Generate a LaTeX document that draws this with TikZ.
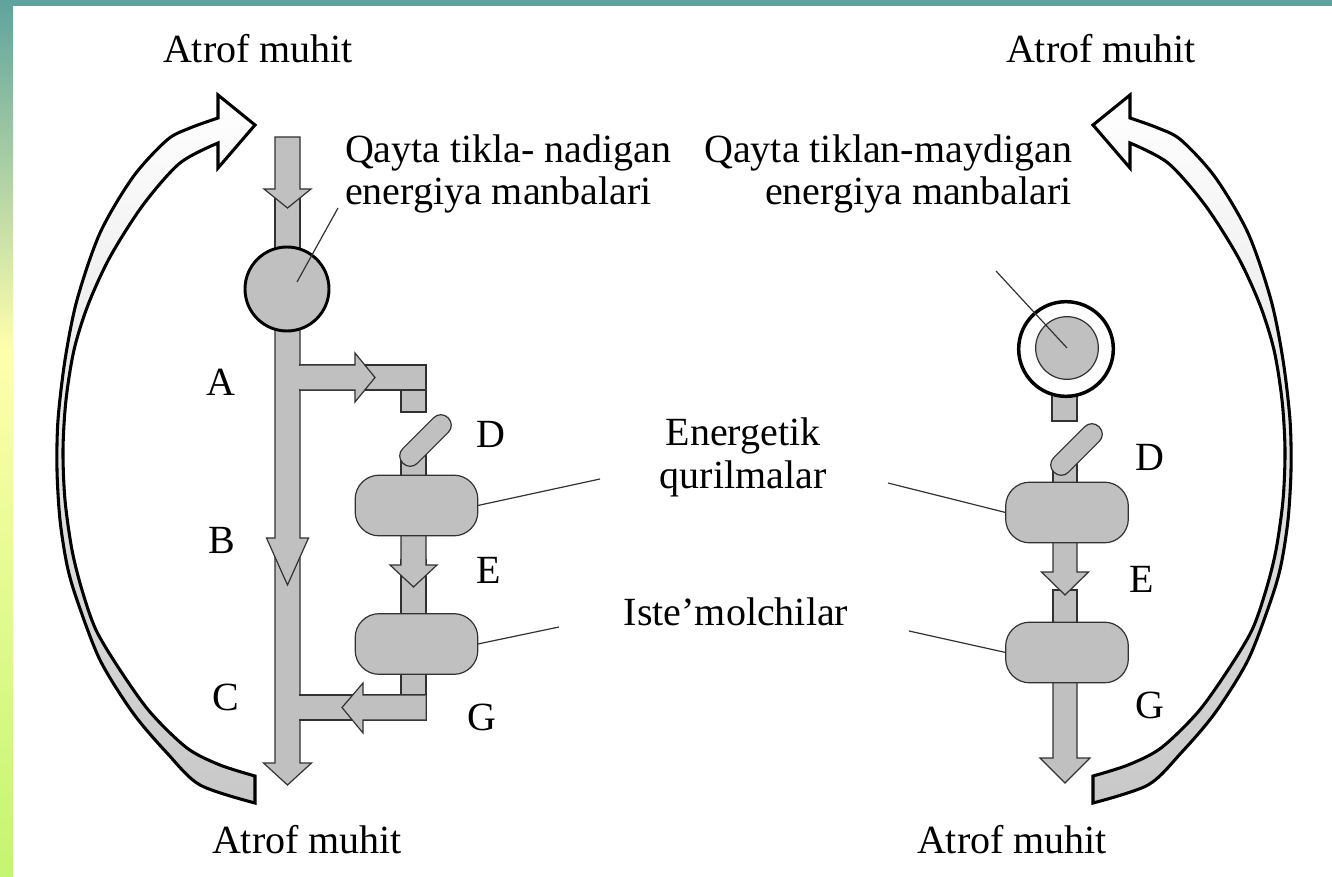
\documentclass[tikz,border=0pt]{standalone}
\usepackage{fontspec}
\setmainfont{Liberation Serif}
\definecolor{fillg}{RGB}{192,192,192}
\definecolor{bandg}{RGB}{200,200,200}
\definecolor{tealA}{RGB}{95,163,158}
\definecolor{yelA}{RGB}{255,255,172}
\definecolor{grnA}{RGB}{196,245,112}
\definecolor{edgeA}{RGB}{50,50,50}
\newcommand\myDarr[6]{%
  \filldraw[blk] ({#1-#5},#2) -- ({#1-#5},#3) -- ({#1-#6},#3) -- (#1,#4) -- ({#1+#6},#3) -- ({#1+#5},#3) -- ({#1+#5},#2) -- cycle;}
\newcommand\myBand{%
  \draw[line width=2.3pt, line join=miter, draw=black, top color=white, bottom color=bandg]
   plot[smooth,tension=0.5] coordinates {(255,776) (220,765) (187,748) (150,712) (120,670) (96,630) (82,590) (72,550) (65,500) (63,450) (66,400) (74,350) (88,305) (110,257) (143,205) (180,163) (218,143)}
   -- (218,168) -- (255,125) -- (218,95) -- (218,118)
   -- plot[smooth,tension=0.5] coordinates {(218,118) (190,128) (167,140) (133,177) (100,233) (77,300) (65,360) (58,420) (57,470) (60,520) (67,565) (77,600) (100,660) (133,713) (167,753) (200,785) (255,803)}
   -- cycle;}
\begin{document}
\begin{tikzpicture}[x=0.75pt,y=-0.75pt,
  every node/.style={inner sep=0pt,outer sep=0pt,font=\fontsize{30}{36}\selectfont},
  blk/.style={fill=fillg,draw=edgeA,line width=0.9pt,line join=miter},
  pill/.style={rectangle,rounded corners=18pt,fill=fillg,draw=edgeA,line width=0.9pt,minimum width=92pt,minimum height=45.5pt},
  tilt/.style={rectangle,rounded corners=7.5pt,fill=fillg,draw=edgeA,line width=0.9pt,minimum width=48pt,minimum height=15.5pt,rotate=45},
  lead/.style={draw=edgeA,line width=0.9pt},
  lbl/.style={anchor=base}]
\useasboundingbox (0,0) rectangle (1332,877);
\fill[white] (0,0) rectangle (1332,877);
% frame
\fill[tealA] (0,0) rectangle (1332,6);
\shade[top color=tealA,bottom color=yelA] (0,0) rectangle (13,350);
\shade[top color=yelA,bottom color=grnA] (0,350) rectangle (13,877);

% curved arrows
\myBand
\begin{scope}[shift={(1348,0)},xscale=-1]
\myBand
\end{scope}

% ===== left diagram =====
\myDarr{287.5}{555}{763}{785}{12.5}{24}
\myDarr{287.5}{300}{538}{585}{12.5}{21}
\filldraw[blk] (275,195) rectangle (300,262);
\myDarr{287.5}{137}{189}{208}{12.5}{23.5}
\node[circle,minimum size=63pt,fill=fillg,draw=black,line width=2.2pt] (src) at (287,289) {};
\coordinate (srcP) at (297,282);
\coordinate (srcE) at (338,208);
\draw[lead] (srcP) -- (srcE);

% branch A
\fill[fillg] (299,365) rectangle (426,390);
\draw[edgeA,line width=0.9pt] (299,365) -- (426,365) -- (426,390) -- (299,390);
\filldraw[blk] (401,390) rectangle (426,412);
\filldraw[blk] (300,365) -- (355,365) -- (355,353) -- (375,377.5) -- (355,402) -- (355,390) -- (300,390);

% D stub, E shaft, G stub
\filldraw[blk] (401,452) rectangle (426,478);
\filldraw[blk] (401,560) rectangle (426,615);
\myDarr{413.5}{534}{565}{587}{12.5}{23.5}
\filldraw[blk] (401,673) rectangle (426,696);
\node[tilt] (dL) at (425.5,440.5) {};
\node[pill] (eL) at (416.5,505.5) {};
\node[pill] (cL) at (416.5,644) {};

% branch G
\fill[fillg] (299,695) rectangle (426,720);
\draw[edgeA,line width=0.9pt] (299,695) -- (426,695) -- (426,720) -- (299,720);
\filldraw[blk] (425.5,695) -- (363,695) -- (363,683) -- (342,707.5) -- (363,733) -- (363,720) -- (425.5,720);

\coordinate (eLend) at (600,479);
\coordinate (cLend) at (559,627);
\draw[lead] (eL.east) -- (eLend);
\draw[lead] (cL.east) -- (cLend);

% ===== right diagram =====
\filldraw[blk] (1052,390) rectangle (1077,421);
\node[circle,minimum size=71pt,fill=white,draw=black,line width=2.6pt] (ringO) at (1066,349) {};
\node[circle,minimum size=47pt,fill=fillg,draw=edgeA,line width=0.9pt] (ringI) at (1067,348) {};
\coordinate (ringL) at (996,271);
\draw[lead] (ringL) -- (ringI.center);

\filldraw[blk] (1053,463) rectangle (1077,484);
\filldraw[blk] (1053,590) rectangle (1077,624);
\myDarr{1065}{540}{572}{595}{12}{23.5}
\myDarr{1065}{680}{758}{783}{12}{25}
\node[tilt] (dR) at (1076.5,449.5) {};
\node[pill] (eR) at (1067,512.5) {};
\node[pill] (cR) at (1067,652.5) {};
\coordinate (eRend) at (888,483);
\coordinate (cRend) at (909,631);
\draw[lead] (eRend) -- (eR.west);
\draw[lead] (cRend) -- (cR.west);

% ===== texts =====
\node[lbl] (t1) at (258,63) {Atrof muhit};
\node[lbl] (t2) at (1101,63) {Atrof muhit};
\node[lbl] (t3) at (307,853) {Atrof muhit};
\node[lbl] (t4) at (1012,853) {Atrof muhit};
\node[anchor=base west] (q1) at (345,163) {Qayta tikla- nadigan};
\node[anchor=base west] (q2) at (345,205) {energiya manbalari};
\node[anchor=base east] (r1) at (1072,163) {Qayta tiklan-maydigan};
\node[anchor=base east] (r2) at (1072,205) {energiya manbalari};
\node[lbl] (en1) at (743,445) {Energetik};
\node[lbl] (en2) at (743,488) {qurilmalar};
\node[lbl] (ist) at (736,625) {Iste’molchilar};
\node[lbl] (la) at (221,395) {A};
\node[lbl] (lb) at (222,553) {B};
\node[lbl] (lc) at (226,710) {C};
\node[lbl] (ld) at (491,447) {D};
\node[lbl] (le) at (489,583) {E};
\node[lbl] (lg) at (482,730) {G};
\node[lbl] (rd) at (1150,470) {D};
\node[lbl] (re) at (1142,592) {E};
\node[lbl] (rg) at (1150,718) {G};
\end{tikzpicture}
\end{document}
